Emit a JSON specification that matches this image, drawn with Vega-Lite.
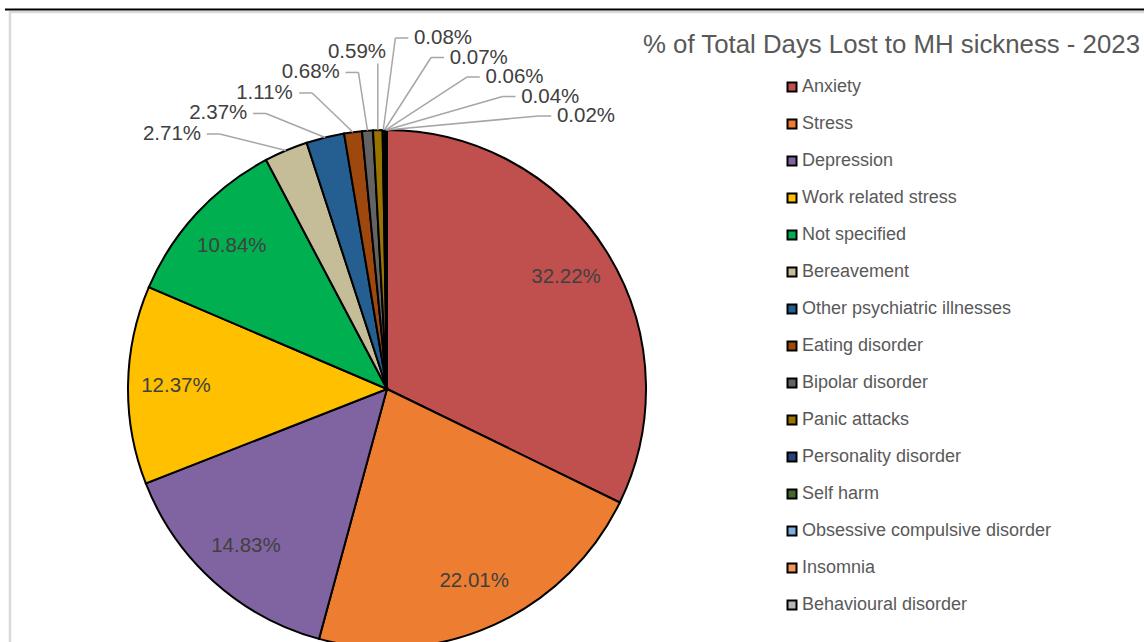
{
  "$schema": "https://vega.github.io/schema/vega-lite/v6.json",
  "width": 1138,
  "height": 634,
  "autosize": {"type": "none"},
  "padding": {"left": 10, "top": 12, "right": -4, "bottom": -4},
  "background": "white",
  "config": {
    "view": {"stroke": "#D9D9D9", "strokeWidth": 2.5},
    "font": "Liberation Sans"
  },
  "title": {
    "text": "% of Total Days Lost to MH sickness - 2023",
    "orient": "top",
    "anchor": "end",
    "frame": "group",
    "offset": -50,
    "dx": -8,
    "font": "Liberation Sans",
    "fontSize": 25.8,
    "fontWeight": "normal",
    "color": "#595959"
  },
  "data": {
    "values": [
      {"category": "Anxiety", "value": 32.22},
      {"category": "Stress", "value": 22.01},
      {"category": "Depression", "value": 14.83},
      {"category": "Work related stress", "value": 12.37},
      {"category": "Not specified", "value": 10.84},
      {"category": "Bereavement", "value": 2.71},
      {"category": "Other psychiatric illnesses", "value": 2.37},
      {"category": "Eating disorder", "value": 1.11},
      {"category": "Bipolar disorder", "value": 0.68},
      {"category": "Panic attacks", "value": 0.59},
      {"category": "Personality disorder", "value": 0.08},
      {"category": "Self harm", "value": 0.07},
      {"category": "Obsessive compulsive disorder", "value": 0.06},
      {"category": "Insomnia", "value": 0.04},
      {"category": "Behavioural disorder", "value": 0.02}
    ]
  },
  "transform": [
    {"window": [{"op": "row_number", "as": "idx"}]},
    {"joinaggregate": [{"op": "sum", "field": "value", "as": "total"}]},
    {"window": [{"op": "sum", "field": "value", "as": "cum"}], "sort": [{"field": "idx"}], "frame": [null, 0]},
    {"calculate": "2 * PI * (datum.cum - datum.value / 2) / datum.total", "as": "ang"},
    {"calculate": "format(datum.value, '.2f') + '%'", "as": "label"},
    {"calculate": "datum.value >= 5", "as": "inside"},
    {"calculate": "sin(datum.ang)", "as": "ex"},
    {"calculate": "cos(datum.ang)", "as": "ey"},
    {"calculate": "0.815 * datum.ex", "as": "ix"},
    {"calculate": "0.815 * datum.ey", "as": "iy"},
    {"window": [{"op": "row_number", "as": "k"}, {"op": "count", "as": "n"}], "groupby": ["inside"], "sort": [{"field": "idx"}], "frame": [null, null]},
    {"calculate": "datum.k <= datum.n / 2", "as": "left"},
    {"calculate": "datum.left ? datum.k - 1 : datum.k - datum.n / 2 - 1", "as": "j"},
    {"calculate": "datum.left ? -0.8301 + 0.1786 * datum.j : 0.2162 + 0.138 * datum.j", "as": "lx"},
    {"calculate": "datum.left ? 0.9846 + 0.0792 * datum.j : 1.3552 - 0.0753 * datum.j", "as": "ly"},
    {"calculate": "abs(datum.ex - datum.lx) < 0.114", "as": "vertical"},
    {"calculate": "datum.vertical ? datum.ex : (datum.left ? datum.lx + 0.134 : datum.lx - 0.134)", "as": "sx"},
    {"calculate": "datum.vertical ? datum.ly - 0.045 : datum.ly", "as": "sy"},
    {"calculate": "datum.vertical ? datum.ex : (datum.left ? datum.sx + 0.05 : datum.sx - 0.05)", "as": "hx"}
  ],
  "encoding": {
    "x": {"type": "quantitative", "scale": {"domain": [-1.4556, 2.9382], "nice": false, "zero": false}, "axis": null},
    "y": {"type": "quantitative", "scale": {"domain": [-0.9923, 1.4556], "nice": false, "zero": false}, "axis": null}
  },
  "layer": [
    {
      "mark": {"type": "arc", "outerRadius": 259, "stroke": "black", "strokeWidth": 2},
      "encoding": {
        "x": {"datum": 0, "type": "quantitative"},
        "y": {"datum": 0, "type": "quantitative"},
        "theta": {"field": "value", "type": "quantitative", "stack": true},
        "order": {"field": "idx", "type": "quantitative"},
        "color": {
          "field": "category",
          "type": "nominal",
          "scale": {
            "domain": ["Anxiety", "Stress", "Depression", "Work related stress", "Not specified", "Bereavement", "Other psychiatric illnesses", "Eating disorder", "Bipolar disorder", "Panic attacks", "Personality disorder", "Self harm", "Obsessive compulsive disorder", "Insomnia", "Behavioural disorder"],
            "range": ["#C0504D", "#ED7D31", "#8064A2", "#FFC000", "#00B050", "#C4BD97", "#255E91", "#9E480E", "#636363", "#997300", "#264478", "#43682B", "#7CAFDD", "#F1975A", "#B7B7B7"]
          },
          "legend": {
            "title": null,
            "orient": "none",
            "legendX": 773,
            "legendY": 66,
            "padding": 0,
            "symbolType": "square",
            "symbolSize": 81,
            "symbolStrokeWidth": 2,
            "symbolStrokeColor": "black",
            "labelFont": "Liberation Sans",
            "labelFontSize": 18,
            "labelColor": "#595959",
            "labelOffset": 1,
            "labelLimit": 0,
            "rowPadding": 19
          }
        }
      }
    },
    {
      "transform": [{"filter": "!datum.inside"}],
      "mark": {"type": "rule", "color": "#A6A6A6", "strokeWidth": 1.5},
      "encoding": {
        "x": {"field": "sx"},
        "y": {"field": "sy"},
        "x2": {"field": "hx"},
        "y2": {"field": "sy"}
      }
    },
    {
      "transform": [{"filter": "!datum.inside"}],
      "mark": {"type": "rule", "color": "#A6A6A6", "strokeWidth": 1.5},
      "encoding": {
        "x": {"field": "hx"},
        "y": {"field": "sy"},
        "x2": {"field": "ex"},
        "y2": {"field": "ey"}
      }
    },
    {
      "transform": [{"filter": "!datum.inside"}],
      "mark": {"type": "text", "font": "Liberation Sans", "fontSize": 20.5, "color": "#404040", "align": "center", "baseline": "middle"},
      "encoding": {
        "x": {"field": "lx"},
        "y": {"field": "ly"},
        "text": {"field": "label"}
      }
    },
    {
      "transform": [{"filter": "datum.inside"}],
      "mark": {"type": "text", "font": "Liberation Sans", "fontSize": 20.5, "color": "#404040", "align": "center", "baseline": "middle"},
      "encoding": {
        "x": {"field": "ix"},
        "y": {"field": "iy"},
        "text": {"field": "label"}
      }
    },
    {
      "data": {"values": [{"edge": "top"}]},
      "mark": {"type": "rule", "color": "black", "strokeWidth": 2},
      "encoding": {
        "x": {"datum": -1.475},
        "x2": {"datum": 2.95},
        "y": {"datum": 1.4653}
      }
    }
  ]
}
